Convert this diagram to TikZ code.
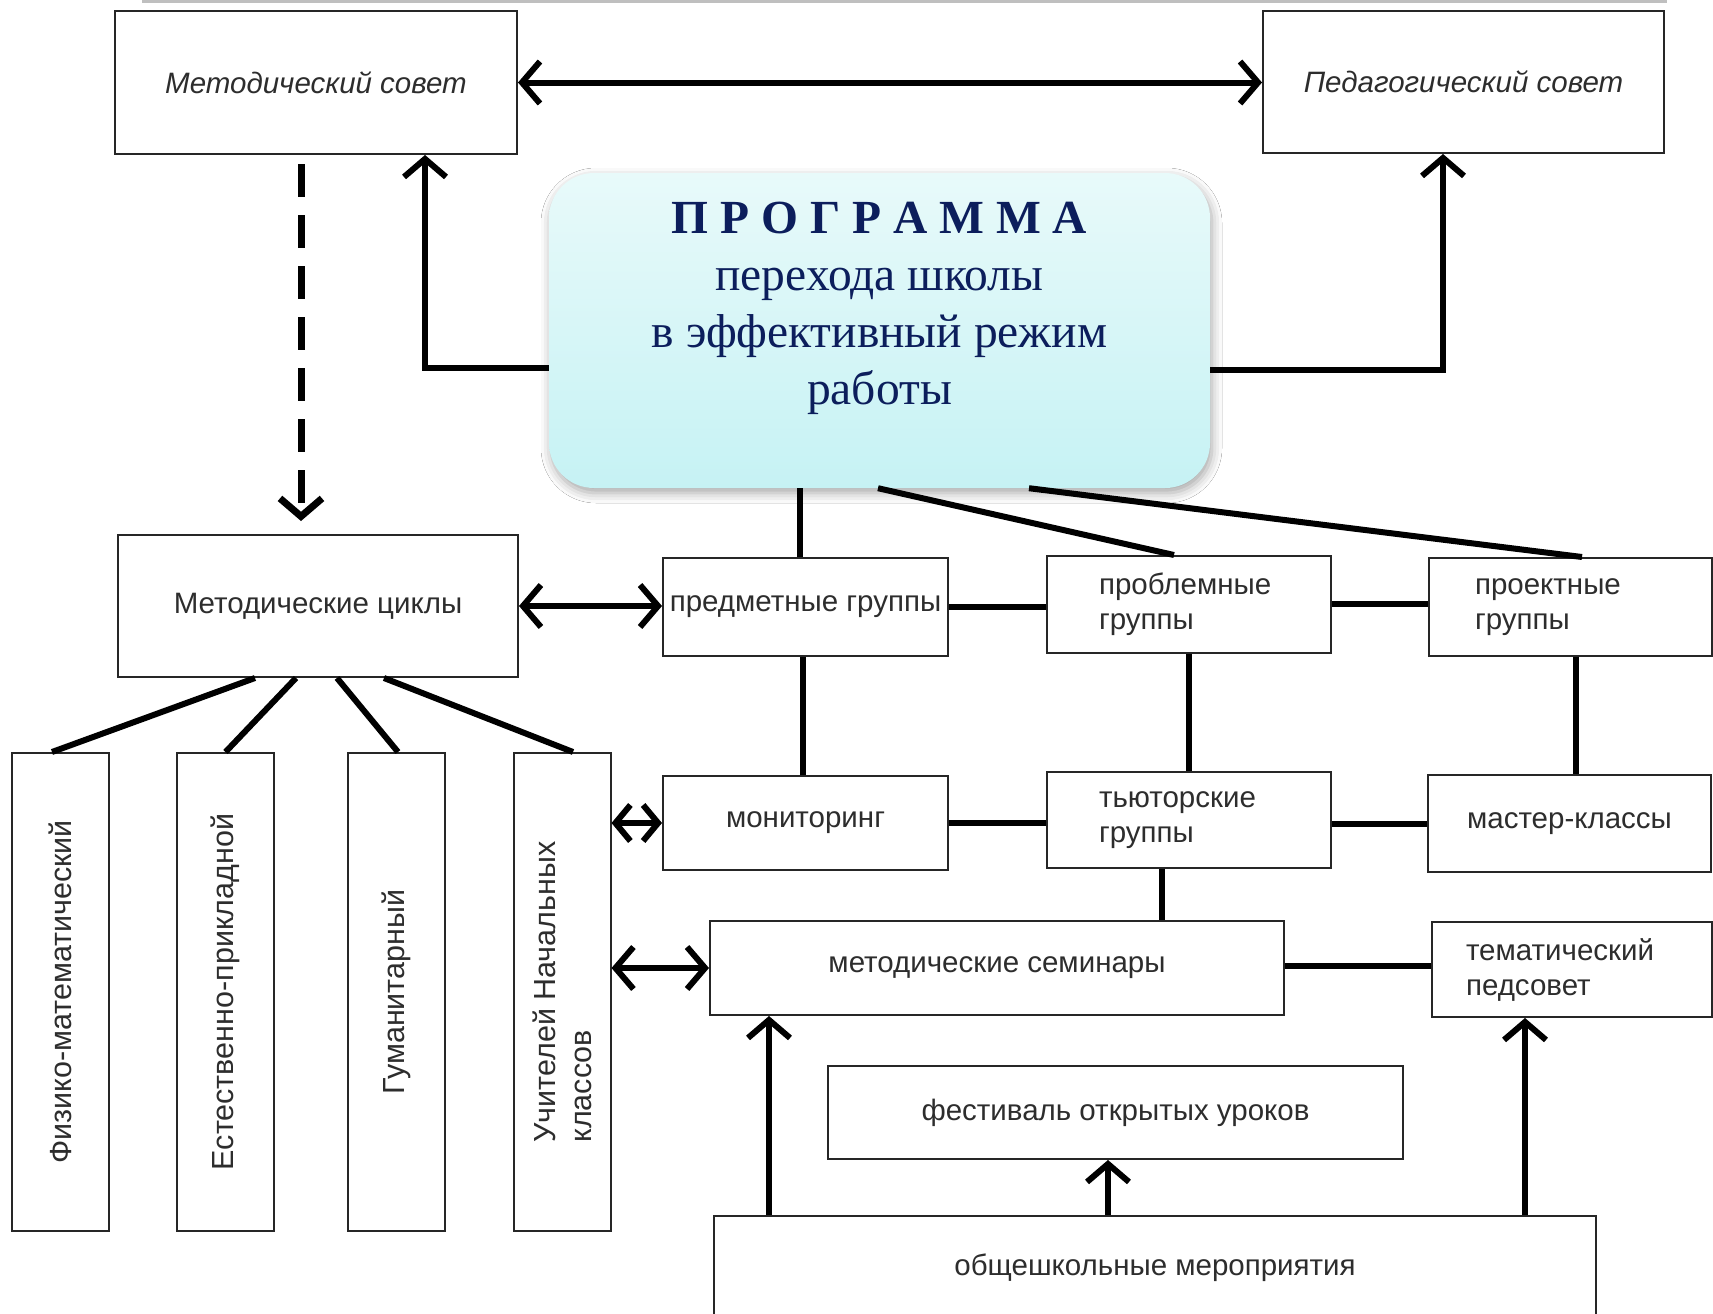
\documentclass[tikz,border=0pt]{standalone}
\usepackage{fontspec}
\setmainfont{Liberation Sans}
\newfontfamily\progfont{Liberation Serif}
\usetikzlibrary{arrows.meta,shadows.blur,calc}
\definecolor{txt}{RGB}{45,45,45}
\definecolor{navy}{RGB}{12,30,92}
\definecolor{progtop}{RGB}{232,250,250}
\definecolor{progbot}{RGB}{198,242,244}
\begin{document}
\begin{tikzpicture}[x=1pt,y=-1pt,
  box/.style={draw=black!85, line width=2pt, inner sep=0pt, text=txt,
    font=\fontsize{29.5}{35}\selectfont},
  conn/.style={line width=6pt, line join=miter},
  tip/.style={-{Straight Barb[length=18pt,width=42pt]}},
  tips/.style={{Straight Barb[length=18pt,width=42pt]}-{Straight Barb[length=18pt,width=42pt]}},
  smalltips/.style={{Straight Barb[length=15pt,width=36pt]}-{Straight Barb[length=15pt,width=36pt]}},
  vbox/.style={box, rotate=90, minimum width=478pt, minimum height=97pt,
    font=\fontsize{30.5}{36}\selectfont},
]
\useasboundingbox (0,0) rectangle (1713,1314);
\fill[white] (0,0) rectangle (1713,1314);
\draw[black!25, line width=4pt] (142,1) -- (1667,1);

% top row
\node[box, minimum width=402pt, minimum height=143pt, font=\fontsize{29.5}{35}\selectfont\itshape] (ms) at (316,82.5) {Методический совет};
\node[box, minimum width=401pt, minimum height=142pt, font=\fontsize{29.5}{35}\selectfont\itshape] (ps) at (1463.5,82) {Педагогический совет};

% left column
\node[box, minimum width=400pt, minimum height=142pt] (mcy) at (318,606) {Методические циклы};
\node[vbox] (v1) at (60.5,992) {Физико-математический};
\node[vbox] (v2) at (225.5,992) {Естественно-прикладной};
\node[vbox] (v3) at (396,992) {Гуманитарный};
\node[vbox, align=left] (v4) at (562,992) {Учителей Начальных\\классов};

% grid
\node[box, minimum width=285pt, minimum height=98pt] (pg) at (805.5,607) {предметные группы};
\node[box, minimum width=284pt, minimum height=97pt, align=left, text width=180pt] (prb) at (1189,604.5) {проблемные\\группы};
\node[box, anchor=west, minimum height=98pt, align=left, text width=191pt, inner xsep=46pt] (prk) at (1428,607) {проектные\\группы};
\node[box, minimum width=285pt, minimum height=94pt] (mon) at (805.5,823) {мониторинг};
\node[box, minimum width=284pt, minimum height=96pt, align=left, text width=180pt] (tut) at (1189,820) {тьюторские\\группы};
\node[box, minimum width=283pt, minimum height=97pt] (mk) at (1569.5,823.5) {мастер-классы};
\node[box, minimum width=574pt, minimum height=94pt] (sem) at (997,968) {методические семинары};
\node[box, anchor=west, minimum height=95pt, align=left, text width=212pt, inner xsep=34pt] (ped) at (1431,969.5) {тематический\\педсовет};
\node[box, minimum width=575pt, minimum height=93pt] (fest) at (1115.5,1112.5) {фестиваль открытых уроков};
\node[box, minimum width=882pt, minimum height=104pt] (obsh) at (1155,1268) {общешкольные мероприятия};

% connectors
\draw[conn, tips] (ms.east) -- (ms.east -| ps.west);
\draw[conn, tip, dash pattern=on 33pt off 18pt, line width=7pt, shorten <=9pt, shorten >=13pt]
  ([xshift=-15pt]ms.south) -- ([xshift=-17pt]mcy.north);

\draw[conn, tips] (mcy.east) -- (mcy.east -| pg.west);
\draw[conn] ([xshift=-63pt]mcy.south) -- ([xshift=-8.5pt]v1.east);
\draw[conn] ([xshift=-22pt]mcy.south) -- (v2.east);
\draw[conn] ([xshift=19pt]mcy.south) -- ([xshift=2pt]v3.east);
\draw[conn] ([xshift=66pt]mcy.south) -- ([xshift=11pt]v4.east);
\draw[conn, smalltips] (v4.south |- mon.west) -- (mon.west);
\draw[conn, tips] (v4.south |- sem.west) -- (sem.west);

\draw[conn] (pg.east) -- (pg.east -| prb.west);
\draw[conn] ([yshift=1pt]prb.east) -- ([yshift=1pt]prb.east -| prk.west);
\draw[conn] ([xshift=-2.5pt]pg.south) -- ([xshift=-2.5pt]pg.south |- mon.north);
\draw[conn] (prb.south) -- (prb.south |- tut.north);
\draw[conn] ([xshift=5.5pt]prk.south) -- ([xshift=5.5pt]prk.south |- mk.north);
\draw[conn] (mon.east) -- (mon.east -| tut.west);
\draw[conn] (mk.west -| tut.east) -- (mk.west);
\draw[conn] ([xshift=-27pt]tut.south) -- ([xshift=-27pt]tut.south |- sem.north);
\draw[conn] ([yshift=2pt]sem.east) -- ([yshift=2pt]sem.east -| ped.west);

\draw[conn, tip] ([xshift=-386pt]obsh.north) -- ([xshift=-386pt]obsh.north |- sem.south);
\draw[conn, tip] ([xshift=-47pt]obsh.north) -- ([xshift=-47pt]obsh.north |- fest.south);
\draw[conn, tip] ([xshift=370pt]obsh.north) -- ([xshift=370pt]obsh.north |- ped.south);

% program box
\node[rounded corners=45pt, minimum width=661pt, minimum height=315pt,
  top color=progtop, bottom color=progbot,
  blur shadow={shadow xshift=2pt, shadow yshift=-5pt, shadow blur radius=10pt, shadow opacity=35}]
  (prog) at (879.5,330.5) {};
\node[font=\progfont\fontsize{47.5}{57}\selectfont, text=navy, align=center]
  (progtxt) at ([yshift=22pt]prog.center)
  {{\bfseries П Р О Г Р А М М А}\\перехода школы\\в эффективный режим\\работы};

\draw[conn, tip] ([yshift=-37.5pt]prog.west) -| ([xshift=109pt]ms.south);
\draw[conn, tip] ([yshift=-39.5pt]prog.east) -| ([xshift=-20.5pt]ps.south);
\draw[conn] ([xshift=-5.5pt]pg.north) -- ([xshift=-5.5pt]pg.north |- prog.south);
\draw[conn] ([xshift=-1.5pt]prog.south) -- ([xshift=-15pt]prb.north);
\draw[conn] ([xshift=149.5pt]prog.south) -- ([xshift=11.5pt]prk.north);
\end{tikzpicture}
\end{document}
